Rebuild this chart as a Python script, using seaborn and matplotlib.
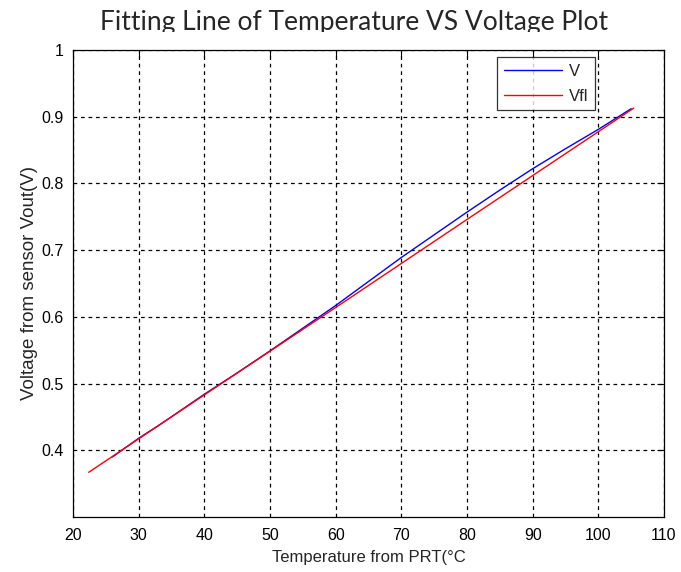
import matplotlib
matplotlib.use("Agg")
import matplotlib.pyplot as plt
import seaborn as sns
import pandas as pd
from matplotlib.patches import Rectangle

# Data
temp_v = [26, 28, 30, 33, 36, 40, 45, 50, 55, 60, 65, 70, 75, 80, 85, 90, 95, 100, 105]
volt_v = [0.390, 0.404, 0.418, 0.437, 0.457, 0.484, 0.516, 0.549, 0.583, 0.617,
          0.653, 0.689, 0.723, 0.757, 0.790, 0.822, 0.852, 0.881, 0.912]
temp_fit = [22.4, 40, 60, 80, 105.4]
volt_fit = [0.367, 0.483, 0.614, 0.746, 0.913]
x_ticks = [20, 30, 40, 50, 60, 70, 80, 90, 100, 110]
y_ticks = [0.4, 0.5, 0.6, 0.7, 0.8, 0.9, 1.0]
y_ticklabels = ["0.4", "0.5", "0.6", "0.7", "0.8", "0.9", "1"]

sns.set_style("white")
plt.rcParams["font.family"] = ["Liberation Sans", "DejaVu Sans"]

df = pd.concat([
    pd.DataFrame({"T": temp_v, "V": volt_v, "series": "V"}),
    pd.DataFrame({"T": temp_fit, "V": volt_fit, "series": "Vfl"}),
])

fig = plt.figure(figsize=(6.81, 5.72), dpi=100)
ax = fig.add_axes([73 / 681, 1 - 517 / 572, (664 - 73) / 681, (517 - 50) / 572])

sns.lineplot(data=df, x="T", y="V", hue="series", palette={"V": "#0000ff", "Vfl": "#ff0000"},
             sort=True, estimator=None, linewidth=1.0, ax=ax)

ax.set_xlim(20, 110)
ax.set_ylim(0.3, 1.0)
ax.set_xticks(x_ticks)
ax.set_yticks(y_ticks)
ax.set_yticklabels(y_ticklabels)
ax.tick_params(direction="in", length=5, width=0.8, top=True, right=True,
               labelsize=11.5, colors="black")
ax.tick_params(axis="x", pad=8)
ax.tick_params(axis="y", pad=7)
for s in ax.spines.values():
    s.set_color("black")
    s.set_linewidth(0.9)
ax.grid(True, color="black", linestyle=(0, (3, 3)), linewidth=0.9)
ax.set_axisbelow(True)

ax.set_xlabel("Temperature from PRT(°C", fontsize=12, labelpad=5)
ax.set_ylabel("Voltage from sensor Vout(V)", fontsize=13.5, labelpad=2)

leg = ax.legend(loc="upper left", bbox_to_anchor=(0.7174, 0.985), frameon=True, fancybox=False,
                fontsize=12, handlelength=3.5, borderpad=0.4, labelspacing=0.6,
                handletextpad=0.4, borderaxespad=0)
leg.get_frame().set_edgecolor("black")
leg.get_frame().set_linewidth(0.9)

fig.text(0.52, 1 - 30 / 572, "Fitting Line of Temperature VS Voltage Plot",
         ha="center", va="baseline", fontsize=19, family=["Lato", "DejaVu Sans"], zorder=3)
fig.patches.append(Rectangle((90 / 681, 1 - 47 / 572), 540 / 681, 15 / 572,
                             transform=fig.transFigure, facecolor="white",
                             edgecolor="none", zorder=4))

fig.savefig("out.png", dpi=100)
